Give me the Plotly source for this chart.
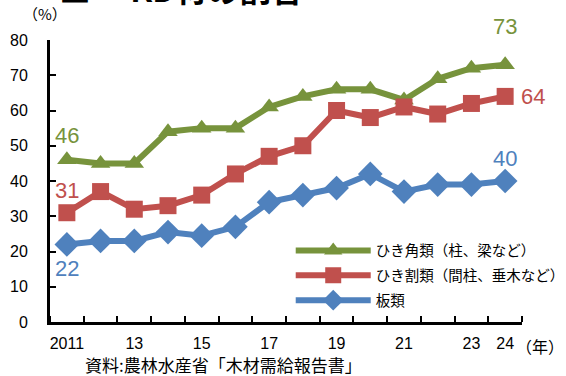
import plotly.graph_objects as go

years = list(range(2011, 2025))
kaku = [46, 45, 45, 54, 55, 55, 61, 64, 66, 66, 63, 69, 72, 73]
wari = [31, 37, 32, 33, 36, 42, 47, 50, 60, 58, 61, 59, 62, 64]
ita = [22, 23, 23, 25.5, 24.5, 27, 34, 36, 38, 42, 37, 39, 39, 40]
names = ["ひき角類（柱、梁など）", "ひき割類（間柱、垂木など）", "板類"]
colors = ["#77933C", "#C0504D", "#4F81BD"]
symbols = ["triangle-up", "square", "diamond"]
tick_years = [2011, 2013, 2015, 2017, 2019, 2021, 2023, 2024]
tick_text = ["2011", "13", "15", "17", "19", "21", "23", "24"]
y_ticks = [0, 10, 20, 30, 40, 50, 60, 70, 80]

JP = "Noto Sans CJK JP"
NARROW = "Liberation Sans Narrow, Arial Narrow, Liberation Sans"

fig = go.Figure()
for i, (vals, name, col, sym) in enumerate(zip([kaku, wari, ita], names, colors, symbols)):
    fig.add_trace(go.Scatter(
        x=years, y=vals, name=name, mode="lines+markers", legendgroup=f"g{i}",
        line=dict(color=col, width=6),
        marker=dict(symbol=sym, size=17 if sym != "diamond" else 19, color=col),
        cliponaxis=False,
    ))

# value labels at start and end
lab = [
    (years[0], kaku[0], "46", colors[0], 0, -24, "center"),
    (years[0], wari[0], "31", colors[1], 0, -22, "center"),
    (years[0], ita[0], "22", colors[2], 0, 24, "center"),
    (years[-1], kaku[-1], "73", colors[0], 0, -38, "center"),
    (years[-1], wari[-1], "64", colors[1], 14, 0, "left"),
    (years[-1], ita[-1], "40", colors[2], 0, -23, "center"),
]
for x, y, t, c, ax, ay, xa in lab:
    fig.add_annotation(x=x, y=y, text=t, showarrow=True, arrowcolor="rgba(0,0,0,0)",
                       ax=ax, ay=ay, xanchor=xa,
                       font=dict(family=NARROW, size=22, color=c))

# title (partially cut off at top)
fig.add_annotation(xref="paper", yref="paper", x=0.015, y=1.095, xanchor="left", yanchor="bottom",
                   text="<b>■　 KD材の割合</b>", showarrow=False,
                   font=dict(family=JP, size=32, color="black"))
fig.add_annotation(xref="paper", yref="paper", x=-0.01, y=1.05, xanchor="center", yanchor="bottom",
                   text="（%）", showarrow=False, font=dict(family=JP, size=15, color="black"))
fig.add_annotation(xref="paper", yref="paper", x=1.093, y=-0.035, xanchor="right", yanchor="top",
                   text="（年）", showarrow=False, font=dict(family=JP, size=16, color="black"))
fig.add_annotation(xref="paper", yref="paper", x=0.07, y=-0.152, xanchor="left", yanchor="middle",
                   text="資料:農林水産省「木材需給報告書」", showarrow=False,
                   font=dict(family=JP, size=17, color="black"))

fig.update_layout(
    width=566, height=376,
    margin=dict(l=50, r=44, t=40, b=54, autoexpand=False),
    paper_bgcolor="white", plot_bgcolor="white",
    showlegend=True,
    legend=dict(x=0.51, y=0.31, xanchor="left", yanchor="top",
                font=dict(family=JP, size=14.5, color="black"),
                bgcolor="rgba(0,0,0,0)", tracegroupgap=3, itemwidth=75,
                traceorder="grouped"),
    font=dict(family="Liberation Sans", size=15, color="black"),
)
fig.update_xaxes(
    range=[2010.5, 2024.5], tickvals=tick_years, ticktext=tick_text, ticks="",
    showline=True, linecolor="black", linewidth=3, showgrid=False, zeroline=False,
    tickfont=dict(family="Liberation Sans", size=16, color="black"), automargin=False,
    ticklabelstandoff=5,
    minor=dict(tick0=2010.5, dtick=1, ticks="inside", ticklen=6, tickwidth=2, tickcolor="black", showgrid=False),
)
fig.update_yaxes(
    range=[0, 80], tickvals=y_ticks, ticks="inside", ticklen=6, tickwidth=2, tickcolor="black",
    showline=True, linecolor="black", linewidth=3, showgrid=False, zeroline=False, automargin=False,
    tickfont=dict(family="Liberation Sans", size=16, color="black"), ticklabelstandoff=16,
)
fig.write_html("out.html", post_script="document.body.style.margin='0';",
               config={"displayModeBar": False})
